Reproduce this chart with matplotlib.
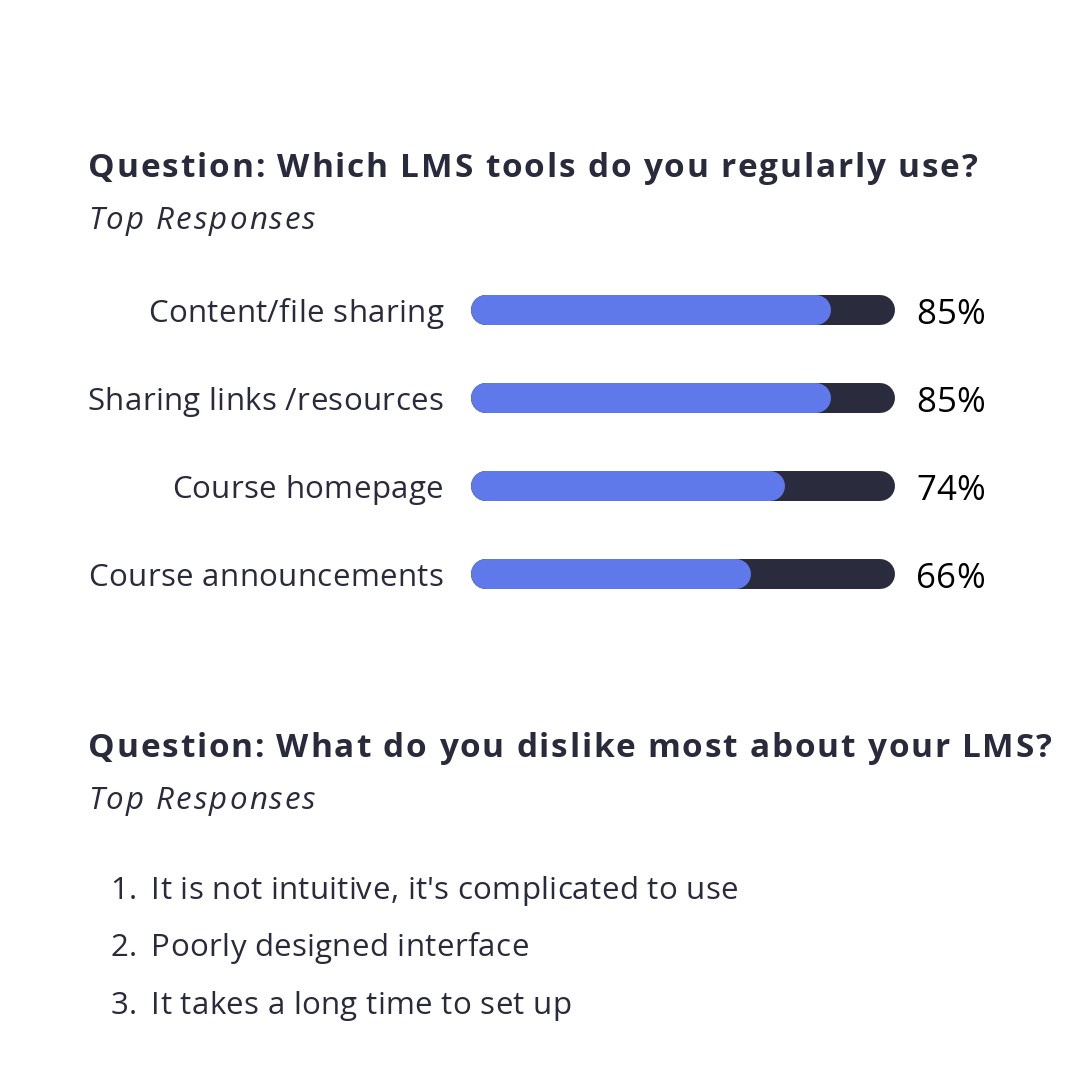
import matplotlib
matplotlib.use('Agg')
import matplotlib.pyplot as plt
from matplotlib.font_manager import FontProperties, findfont, get_font

# ---- data ----
categories = ["Content/file sharing", "Sharing links /resources",
              "Course homepage", "Course announcements"]
values = [85, 85, 74, 66]
value_labels = ["85%", "85%", "74%", "66%"]
title1 = "Question: Which LMS tools do you regularly use?"
subtitle1 = "Top Responses"
title2 = "Question: What do you dislike most about your LMS?"
subtitle2 = "Top Responses"
dislikes = ["It is not intuitive, it's complicated to use",
            "Poorly designed interface",
            "It takes a long time to set up"]

# ---- style ----
FONT = "Open Sans"
TXT = "#2a2a3d"
BLUE = "#6079ea"
DARK = "#2a2b3c"
W = H = 1080
DPI = 100

try:
    from matplotlib.ft2font import Kerning
    KERN = Kerning.DEFAULT
except Exception:
    KERN = 0


def glyph_origins(s, fp):
    """Pen positions (pixels) of each character and the total advance."""
    font = get_font(findfont(fp))
    font.set_size(fp.get_size_in_points(), DPI)
    xs, pen, prev = [], 0.0, None
    for c in s:
        gi = font.get_char_index(ord(c))
        if prev is not None:
            try:
                pen += font.get_kerning(prev, gi, KERN) / 64.0
            except Exception:
                pass
        xs.append(pen)
        g = font.load_char(ord(c))
        pen += g.linearHoriAdvance / 65536.0
        prev = gi
    return xs, pen


def tracked(ax, s, xy, dx=0, dy=0, ha="left", track=0.0, size=22.5,
            weight="normal", style="normal", color=TXT, xycoords="data"):
    fp = FontProperties(family=FONT, size=size, weight=weight, style=style)
    xs, total = glyph_origins(s, fp)
    total += track * (len(s) - 1)
    start = dx if ha == "left" else dx - total
    for i, (c, x0) in enumerate(zip(s, xs)):
        if c == " ":
            continue
        ax.annotate(c, xy=xy, xycoords=xycoords,
                    xytext=(start + x0 + i * track, dy),
                    textcoords="offset pixels", ha="left", va="baseline",
                    fontproperties=fp, color=color, annotation_clip=False)


fig = plt.figure(figsize=(W / DPI, H / DPI), dpi=DPI)
fig.patch.set_facecolor("white")

bg = fig.add_axes([0, 0, 1, 1])
bg.set_xlim(0, W)
bg.set_ylim(H, 0)
bg.axis("off")

# titles
tracked(bg, title1, (88, 177), track=1.85, size=24, weight="bold")
tracked(bg, subtitle1, (88, 229), track=2.1, style="italic")
tracked(bg, title2, (88, 757), track=1.8, size=24, weight="bold")
tracked(bg, subtitle2, (88, 809), track=2.1, style="italic")

# numbered list
list_base = 899
list_step = 57.5
for i, item in enumerate(dislikes):
    y = list_base + i * list_step
    tracked(bg, f"{i + 1}.", (137, y), ha="right", track=0.3)
    tracked(bg, item, (151, y), track=0.3)

# bar axes: track from x=471 to 895 px, rows centered at 310..574 px
left_px, right_px = 471, 895
top_px, row_h = 266, 88
n = len(categories)
ax = fig.add_axes([left_px / W, 1 - (top_px + n * row_h) / H,
                   (right_px - left_px) / W, n * row_h / H])
ax.set_xlim(0, 100)
ax.set_ylim(n - 0.5, -0.5)
ax.axis("off")

bar_px = 30
lw = bar_px * 72 / DPI
r = (bar_px / 2) / (right_px - left_px) * 100
for i, (cat, v, lab) in enumerate(zip(categories, values, value_labels)):
    ax.plot([r, 100 - r], [i, i], color=DARK, lw=lw, solid_capstyle="round")
    ax.plot([r, v - r], [i, i], color=BLUE, lw=lw, solid_capstyle="round")
    tracked(ax, cat, (0, i), dx=-28, dy=-12, ha="right", track=0.35)
    tracked(ax, lab, (100, i), dx=21, dy=-14, ha="left", track=0.5,
            size=25, color="black")

fig.savefig("out.png", dpi=DPI, facecolor="white")
